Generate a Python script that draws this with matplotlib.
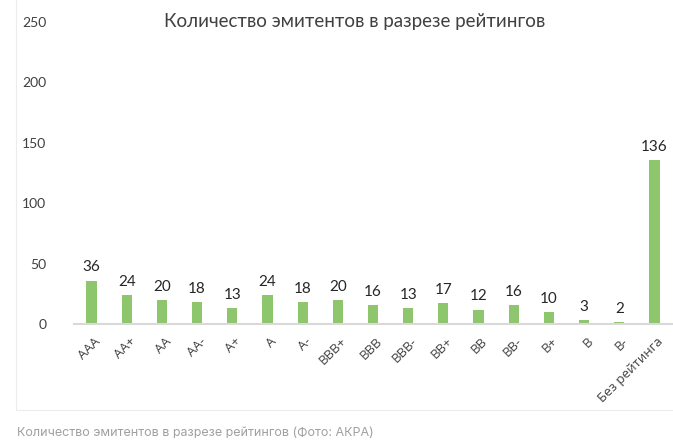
import numpy as np
import matplotlib.pyplot as plt
from matplotlib.patches import Rectangle
from matplotlib.transforms import ScaledTranslation

ratings = ['AAA', 'AA+', 'AA', 'AA-', 'A+', 'A', 'A-', 'BBB+', 'BBB', 'BBB-',
           'BB+', 'BB', 'BB-', 'B+', 'B', 'B-', 'Без рейтинга']
counts = [36, 24, 20, 18, 13, 24, 18, 20, 16, 13, 17, 12, 16, 10, 3, 2, 136]
yticks = [0, 50, 100, 150, 200, 250]

plt.rcParams['font.family'] = ['Lato', 'DejaVu Sans']

fig = plt.figure(figsize=(6.73, 4.44), dpi=100)
ax = fig.add_axes([74/673, 120/444, 598/673, 302/444])

x = np.arange(len(ratings))
bars = ax.bar(x, counts, width=0.29, color='#8dc66d')
for xi, v in zip(x, counts):
    ax.text(xi, v + 5, str(v), ha='center', va='bottom', fontsize=11, color='#262626')

ax.set_xlim(-0.5, len(ratings) - 0.5)
ax.set_ylim(0, 250)
ax.set_yticks(yticks)
ax.tick_params(axis='y', length=0, pad=20, labelsize=10, labelcolor='#404040')
ax.tick_params(axis='x', length=0, pad=11)
ax.set_xticks(x)
ax.set_xticklabels(ratings, rotation=45, ha='right', va='center', rotation_mode='anchor',
                   fontsize=9.5, color='#404040', family=['Open Sans', 'DejaVu Sans'])
# nudge labels to the right, like in the original
shift = ScaledTranslation(5/72, 0, fig.dpi_scale_trans)
for lbl in ax.get_xticklabels():
    lbl.set_transform(lbl.get_transform() + shift)
for s in ['top', 'right', 'left']:
    ax.spines[s].set_visible(False)
ax.spines['bottom'].set_color('#d9d9d9')
ax.spines['bottom'].set_linewidth(1.5)

fig.text(355/673, 1 - 22/444, 'Количество эмитентов в разрезе рейтингов',
         ha='center', va='center', fontsize=13.5, color='#404040')

# outer frame of the chart image
fig.patches.append(Rectangle((16/673, 34/444), 660/673, 412/444, transform=fig.transFigure,
                             fill=False, edgecolor='#ececec', linewidth=0.8))

fig.text(17/673, 1 - 433/444, 'Количество эмитентов в разрезе рейтингов (Фото: АКРА)',
         ha='left', va='center', fontsize=9, color='#a0a0a0',
         family=['Inter', 'DejaVu Sans'])

fig.savefig('out.png', dpi=100)
